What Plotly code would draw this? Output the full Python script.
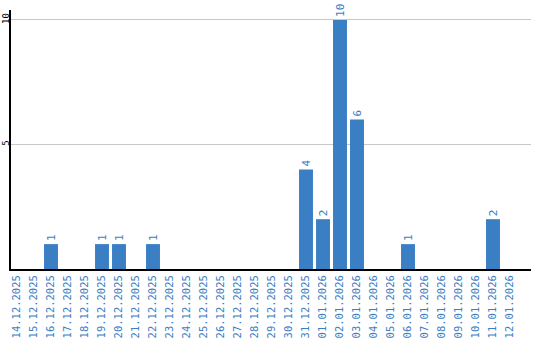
import plotly.graph_objects as go

dates = ["14.12.2025","15.12.2025","16.12.2025","17.12.2025","18.12.2025","19.12.2025",
         "20.12.2025","21.12.2025","22.12.2025","23.12.2025","24.12.2025","25.12.2025",
         "26.12.2025","27.12.2025","28.12.2025","29.12.2025","30.12.2025","31.12.2025",
         "01.01.2026","02.01.2026","03.01.2026","04.01.2026","05.01.2026","06.01.2026",
         "07.01.2026","08.01.2026","09.01.2026","10.01.2026","11.01.2026","12.01.2026"]
counts = [0,0,1,0,0,1,1,0,1,0,0,0,0,0,0,0,0,4,2,10,6,0,0,1,0,0,0,0,2,0]
y_ticks = [5, 10]

blue = "#3a7ec4"
labels = [str(v) if v > 0 else "" for v in counts]
xs = list(range(len(dates)))

fig = go.Figure(go.Bar(
    x=xs, y=counts, text=labels, textposition="outside", textangle=-90,
    textfont=dict(color=blue, size=11, family="DejaVu Sans Mono"),
    marker=dict(color=blue, line=dict(width=0)), width=0.82, cliponaxis=False,
))
fig.update_layout(
    width=540, height=340, margin=dict(l=11, r=9, t=10, b=71),
    plot_bgcolor="white", paper_bgcolor="white", showlegend=False,
    bargap=0.18,
)
fig.update_xaxes(
    range=[-0.353, 30.235], tickmode="array", tickvals=xs, ticktext=dates,
    tickangle=-90, tickfont=dict(color=blue, size=10.5, family="DejaVu Sans Mono"),
    showline=True, linecolor="black", linewidth=2, showgrid=False, ticks="",
    automargin=False,
)
fig.update_yaxes(
    range=[0, 10.4], tickmode="array", tickvals=y_ticks, ticktext=[str(t) for t in y_ticks],
    tickangle=-90, tickfont=dict(color="black", size=9, family="DejaVu Sans Mono"),
    ticklabelstandoff=-4,
    showline=True, linecolor="black", linewidth=2, showgrid=True, gridcolor="#c8c8c8",
    gridwidth=1, zeroline=False, ticks="", automargin=False,
)
fig.write_html("out.html")
